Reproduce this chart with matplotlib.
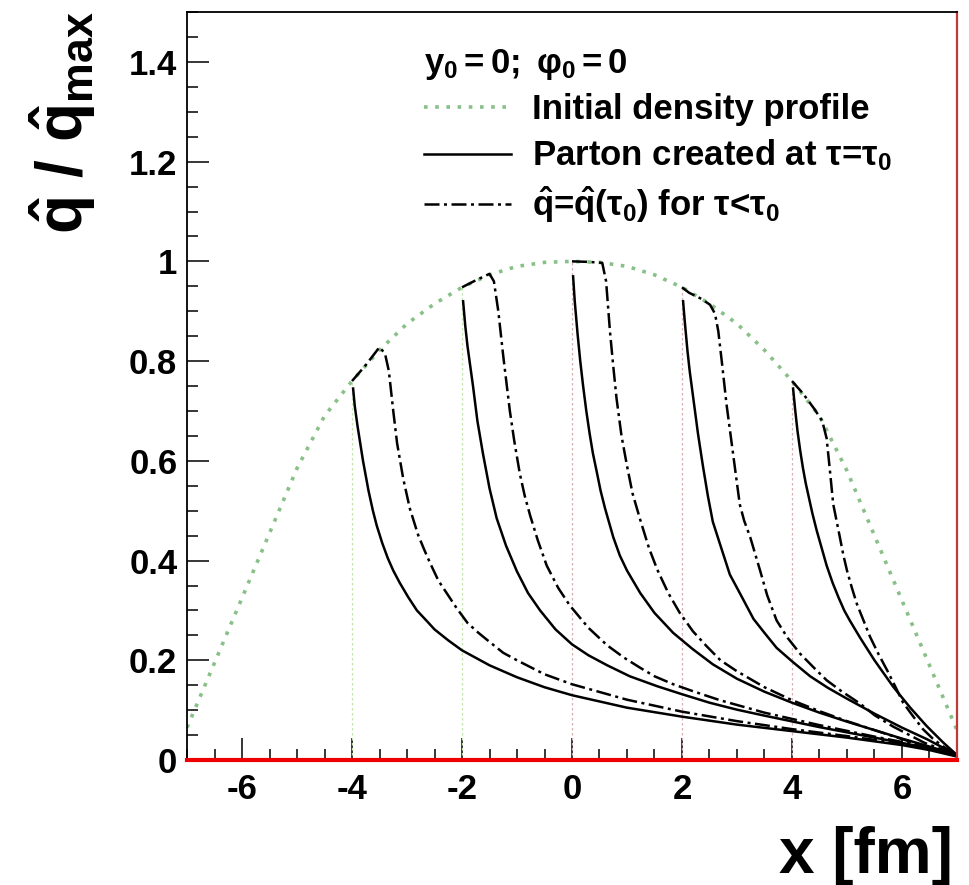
import matplotlib
matplotlib.use("Agg")
import matplotlib.pyplot as plt
from matplotlib.ticker import MultipleLocator, FixedLocator

plt.rcParams["font.family"] = ["Liberation Sans", "DejaVu Sans"]
plt.rcParams["mathtext.fontset"] = "custom"
plt.rcParams["mathtext.rm"] = "Liberation Sans"
plt.rcParams["mathtext.it"] = "Liberation Sans:italic"
plt.rcParams["mathtext.bf"] = "Liberation Sans:bold"

# initial density profile
profile_x = [-7, -6.5, -6, -5.5, -5, -4.5, -4, -3.5, -3, -2.5, -2, -1.5, -1, -0.5, 0,
             0.5, 1, 1.5, 2, 2.5, 3, 3.5, 4, 4.5, 5, 5.5, 6, 6.5, 7]
profile_q = [0.065, 0.195, 0.325, 0.455, 0.585, 0.69, 0.76, 0.822, 0.875, 0.915, 0.948,
             0.973, 0.99, 0.998, 1.0, 0.998, 0.99, 0.973, 0.948, 0.915, 0.875, 0.822,
             0.76, 0.69, 0.58, 0.45, 0.32, 0.19, 0.06]

# production points and the profile height there
start_x = [-4, -2, 0, 2, 4]
start_q = [0.76, 0.948, 1.0, 0.948, 0.76]
guide_colors = ["#c4e4b0", "#c4e4b0", "#d8b0b4", "#d8b0b4", "#d8b0b4"]

# parton created at tau = tau0 (solid)
s1_x = [-3.98, -3.95, -3.9, -3.85, -3.8, -3.7, -3.62, -3.55, -3.45, -3.35, -3.25, -3.13,
        -2.98, -2.82, -2.65, -2.5, -2.25, -2.0, -1.5, -1.0, -0.5, 0.0, 1.0, 2.0, 3.0, 4.0,
        5.0, 6.0, 6.5, 7.0]
s1_q = [0.745, 0.71, 0.67, 0.635, 0.6, 0.54, 0.50, 0.47, 0.435, 0.405, 0.38, 0.355,
        0.327, 0.30, 0.28, 0.262, 0.24, 0.22, 0.19, 0.166, 0.146, 0.13, 0.105, 0.087,
        0.071, 0.058, 0.045, 0.03, 0.02, 0.007]
s2_x = [-1.98, -1.94, -1.9, -1.85, -1.8, -1.72, -1.62, -1.5, -1.37, -1.2, -1.0, -0.8,
        -0.58, -0.3, 0, 0.3, 0.64, 1.05, 1.55, 2.0, 2.5, 3.0, 3.5, 4.5, 5.5, 6.2, 7.0]
s2_q = [0.92, 0.87, 0.83, 0.79, 0.75, 0.68, 0.615, 0.545, 0.485, 0.43, 0.378, 0.335,
        0.30, 0.262, 0.232, 0.21, 0.19, 0.168, 0.148, 0.132, 0.115, 0.101, 0.089, 0.066,
        0.045, 0.03, 0.01]
s3_x = [0.02, 0.05, 0.1, 0.15, 0.2, 0.26, 0.32, 0.38, 0.45, 0.52, 0.6, 0.75, 0.87, 1.0,
        1.24, 1.5, 1.84, 2.2, 2.56, 3.0, 3.5, 4.0, 4.5, 5.0, 5.5, 6.0, 6.5, 7.0]
s3_q = [0.97, 0.92, 0.856, 0.8, 0.752, 0.7, 0.655, 0.615, 0.578, 0.54, 0.505, 0.447,
        0.41, 0.38, 0.335, 0.295, 0.255, 0.222, 0.192, 0.163, 0.137, 0.115, 0.095, 0.077,
        0.06, 0.043, 0.027, 0.01]
s4_x = [2.02, 2.05, 2.1, 2.14, 2.2, 2.29, 2.38, 2.47, 2.56, 2.7, 2.87, 3.05, 3.3, 3.5,
        3.72, 4.0, 4.33, 4.65, 5.0, 5.5, 6.0, 6.45, 7.0]
s4_q = [0.92, 0.88, 0.82, 0.78, 0.73, 0.655, 0.59, 0.53, 0.478, 0.43, 0.372, 0.335, 0.283,
        0.255, 0.225, 0.198, 0.168, 0.145, 0.123, 0.093, 0.065, 0.042, 0.01]
s5_x = [4.02, 4.06, 4.1, 4.15, 4.2, 4.25, 4.3, 4.37, 4.45, 4.54, 4.63, 4.74, 4.85, 4.95,
        5.05, 5.24, 5.5, 5.84, 6.15, 6.45, 6.75, 7.0]
s5_q = [0.745, 0.70, 0.66, 0.62, 0.585, 0.555, 0.53, 0.495, 0.46, 0.425, 0.39, 0.355,
        0.325, 0.30, 0.28, 0.245, 0.2, 0.147, 0.105, 0.068, 0.035, 0.01]

# qhat = qhat(tau0) for tau < tau0 (dash-dot)
d1_x = [-4.0, -3.75, -3.5, -3.4, -3.33, -3.25, -3.18, -3.07, -2.95, -2.8, -2.68, -2.58,
        -2.43, -2.28, -2.1, -1.9, -1.7, -1.5, -1.25, -1.0, -0.5, 0, 1, 2, 3, 4, 5, 6,
        6.5, 7]
d1_q = [0.76, 0.792, 0.828, 0.815, 0.78, 0.70, 0.635, 0.565, 0.505, 0.452, 0.42, 0.395,
        0.36, 0.335, 0.305, 0.275, 0.255, 0.237, 0.215, 0.2, 0.172, 0.152, 0.121, 0.097,
        0.078, 0.062, 0.048, 0.033, 0.022, 0.008]
d2_x = [-2, -1.75, -1.5, -1.42, -1.34, -1.25, -1.13, -1.05, -0.95, -0.86, -0.76, -0.62,
        -0.46, -0.25, -0.04, 0.3, 0.64, 0.95, 1.24, 1.5, 1.84, 2.2, 2.69, 3.5, 4.5, 5.5,
        6.2, 7.0]
d2_q = [0.948, 0.962, 0.975, 0.96, 0.90, 0.81, 0.70, 0.64, 0.575, 0.53, 0.49, 0.44, 0.39,
        0.345, 0.31, 0.265, 0.23, 0.205, 0.185, 0.168, 0.152, 0.138, 0.12, 0.095, 0.07,
        0.047, 0.032, 0.01]
d3_x = [0, 0.3, 0.55, 0.62, 0.69, 0.75, 0.81, 0.9, 1.0, 1.1, 1.24, 1.4, 1.55, 1.75, 1.96,
        2.2, 2.45, 2.7, 3.0, 3.5, 4.0, 4.5, 5.0, 5.5, 6.0, 6.5, 7.0]
d3_q = [1.0, 0.999, 0.997, 0.96, 0.86, 0.79, 0.725, 0.65, 0.59, 0.535, 0.482, 0.425,
        0.382, 0.335, 0.295, 0.258, 0.228, 0.2, 0.178, 0.146, 0.12, 0.098, 0.078, 0.06,
        0.042, 0.025, 0.01]
d4_x = [2.0, 2.13, 2.35, 2.51, 2.6, 2.66, 2.73, 2.81, 2.93, 3.05, 3.13, 3.24, 3.42, 3.55,
        3.72, 3.92, 4.15, 4.4, 4.63, 4.9, 5.24, 5.5, 5.84, 6.4, 7.0]
d4_q = [0.948, 0.937, 0.925, 0.913, 0.895, 0.86, 0.793, 0.713, 0.613, 0.513, 0.48, 0.447,
        0.38, 0.33, 0.28, 0.245, 0.213, 0.185, 0.16, 0.138, 0.113, 0.09, 0.067, 0.035,
        0.01]
d5_x = [4.0, 4.2, 4.4, 4.55, 4.63, 4.69, 4.75, 4.81, 4.87, 4.93, 5.0, 5.09, 5.18, 5.3,
        5.42, 5.57, 5.73, 5.88, 6.02, 6.2, 6.38, 6.56, 6.75, 7.0]
d5_q = [0.76, 0.735, 0.705, 0.68, 0.645, 0.58, 0.513, 0.48, 0.447, 0.413, 0.38, 0.345,
        0.313, 0.28, 0.247, 0.213, 0.18, 0.147, 0.115, 0.088, 0.062, 0.043, 0.027, 0.01]

solid_curves = [(s1_x, s1_q), (s2_x, s2_q), (s3_x, s3_q), (s4_x, s4_q), (s5_x, s5_q)]
dashdot_curves = [(d1_x, d1_q), (d2_x, d2_q), (d3_x, d3_q), (d4_x, d4_q), (d5_x, d5_q)]

y_ticks = [0, 0.2, 0.4, 0.6, 0.8, 1.0, 1.2, 1.4]
y_tick_labels = ["0", "0.2", "0.4", "0.6", "0.8", "1", "1.2", "1.4"]
x_ticks = [-6, -4, -2, 0, 2, 4, 6]
x_tick_labels = ["-6", "-4", "-2", "0", "2", "4", "6"]
zero_level = 0.0

fig = plt.figure(figsize=(9.69, 8.85), dpi=100)
ax = fig.add_axes([0.193, 0.1412, 0.7946, 0.8452])

ax.vlines(start_x, 0, start_q, colors=guide_colors, linestyles=(0, (2, 2)), lw=0.9)

green, = ax.plot(profile_x, profile_q, color="#88c088", lw=2.6,
                 linestyle=(0, (1, 2.1)))
for i, (xs, qs) in enumerate(solid_curves):
    ln, = ax.plot(xs, qs, color="black", lw=1.8)
    if i == 0:
        solid = ln
for i, (xs, qs) in enumerate(dashdot_curves):
    ln, = ax.plot(xs, qs, color="black", lw=1.8, linestyle=(0, (6, 1.8, 1.2, 1.8)))
    if i == 0:
        dashdot = ln

ax.axhline(zero_level, color="#ee0000", lw=3.0, zorder=5, clip_on=False)

ax.set_xlim(-7, 7)
ax.set_ylim(0, 1.5)
ax.xaxis.set_major_locator(FixedLocator(x_ticks))
ax.set_xticklabels(x_tick_labels)
ax.xaxis.set_minor_locator(MultipleLocator(0.5))
ax.yaxis.set_major_locator(FixedLocator(y_ticks))
ax.set_yticklabels(y_tick_labels)
ax.yaxis.set_minor_locator(MultipleLocator(0.05))
ax.tick_params(which="both", direction="in", top=False, right=False, width=1.1,
               labelsize=25)
ax.tick_params(which="major", length=16)
ax.tick_params(which="minor", length=8)
ax.tick_params(axis="x", pad=9)
ax.tick_params(axis="y", pad=7)
for lab in ax.get_xticklabels() + ax.get_yticklabels():
    lab.set_fontweight("bold")

for side in ["left", "bottom", "top"]:
    ax.spines[side].set_linewidth(1.3)
    ax.spines[side].set_color("black")
ax.spines["right"].set_color("#c03838")
ax.spines["right"].set_linewidth(1.6)

leg = ax.legend([green, solid, dashdot],
                ["Initial density profile",
                 r"Parton created at τ=τ$_\mathbf{0}$",
                 r"$\mathbf{\hat{q}}$=$\mathbf{\hat{q}}$(τ$_\mathbf{0}$) for τ<τ$_\mathbf{0}$"],
                loc="upper left", bbox_to_anchor=(0.29, 0.972), frameon=False,
                prop={"size": 25, "weight": "bold"}, handlelength=2.5,
                handletextpad=0.6, labelspacing=0.33,
                title=r"$\mathbf{y_0 = 0;\ φ_0 = 0}$", alignment="left",
                title_fontproperties={"size": 25, "weight": "bold"},
                borderaxespad=0.0)

fig.text(0.983, 0.014, "x [fm]", ha="right", va="baseline", fontsize=46,
         fontweight="bold")
fig.text(0.064, 0.988, r"$\mathbf{\hat{q}\ /\ \hat{q}_{max}}$", rotation=90,
         ha="center", va="top", fontsize=46)

fig.savefig("out.png", dpi=100)
